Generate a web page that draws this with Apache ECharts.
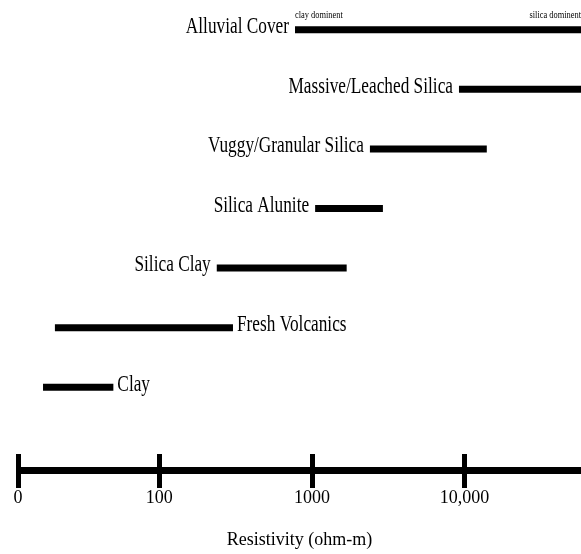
<!DOCTYPE html>
<html><head><meta charset="utf-8">
<script src="https://cdn.jsdelivr.net/npm/echarts@6/dist/echarts.min.js"></script>
<style>html,body{margin:0;padding:0;background:#fff}#c{width:581px;height:554px}</style>
</head><body><div id="c"></div>
<script>
const categories = ['Alluvial Cover','Massive/Leached Silica','Vuggy/Granular Silica','Silica Alunite','Silica Clay','Fresh Volcanics','Clay'];
const lowValues = [775, 9200, 2400, 1050, 238, 20.7, 17.3];
const highValues = [58000, 58000, 14000, 2920, 1690, 304, 50];
const labelSides = ['left','left','left','left','left','right','right'];
const noteTexts = ['clay dominent','silica dominent'];
const noteValues = [775, 58000];
const noteRows = ['Alluvial Cover','Alluvial Cover'];
const noteAligns = ['left','right'];
const tickValues = [11.86, 100, 1000, 10000];
const tickLabels = ['0','100','1000','10,000'];
const axisMin = 11.86, axisMax = 58000;
const axisTitle = 'Resistivity (ohm-m)';

const lg = Math.log10;
const FONT = '"Liberation Serif", "Times New Roman", serif';
const tickLog = tickValues.map(lg);

const barData = categories.map((c, i) => [lg(lowValues[i]), lg(highValues[i]), c]);
const noteData = noteTexts.map((t, i) => [lg(noteValues[i]), noteRows[i]]);

function renderBar(params, api) {
  const i = params.dataIndex;
  const y = api.value(2);
  const p0 = api.coord([api.value(0), y]);
  const p1 = api.coord([api.value(1), y]);
  const h = 7;
  const left = labelSides[i] === 'left';
  return {type: 'group', children: [
    {type: 'rect', shape: {x: p0[0], y: p0[1] - h / 2, width: p1[0] - p0[0], height: h}, style: {fill: '#000'}},
    {type: 'text', x: left ? p0[0] - 6 : p1[0] + 4, y: p0[1] - 3, scaleX: 0.72,
     style: {text: categories[i], fill: '#000', font: '24px ' + FONT, align: left ? 'right' : 'left', verticalAlign: 'middle'}}
  ]};
}
function renderNote(params, api) {
  const i = params.dataIndex;
  const p = api.coord([api.value(0), api.value(1)]);
  return {type: 'text', x: p[0], y: p[1] - 9, scaleX: 0.84,
    style: {text: noteTexts[i], fill: '#000', font: '10px ' + FONT, align: noteAligns[i], verticalAlign: 'bottom'}};
}

const xCommon = {type: 'value', min: lg(axisMin), max: lg(axisMax), splitLine: {show: false}};
const chart = echarts.init(document.getElementById('c'), null, {renderer: 'canvas'});
chart.setOption({
  animation: false,
  backgroundColor: '#fff',
  grid: [
    {left: 18, right: 0, top: 0, height: 417},
    {left: 18, right: 0, top: 430, bottom: 84}
  ],
  xAxis: [
    Object.assign({}, xCommon, {gridIndex: 0, show: false}),
    Object.assign({}, xCommon, {gridIndex: 1, position: 'bottom',
      axisLine: {show: true, lineStyle: {color: '#000', width: 7, cap: 'butt'}},
      axisTick: {show: true, inside: false, length: 18, customValues: tickLog, lineStyle: {color: '#000', width: 5}},
      axisLabel: {show: true, customValues: tickLog, margin: 19, color: '#000', fontFamily: FONT, fontSize: 18,
        formatter: v => { const k = tickLog.findIndex(t => Math.abs(t - v) < 1e-6); return k >= 0 ? tickLabels[k] : ''; }},
      name: axisTitle, nameLocation: 'middle', nameGap: 61,
      nameTextStyle: {color: '#000', fontFamily: FONT, fontSize: 18}
    }),
    Object.assign({}, xCommon, {gridIndex: 1, position: 'bottom',
      axisLine: {show: false},
      axisTick: {show: true, inside: true, length: 16, customValues: tickLog, lineStyle: {color: '#000', width: 5}},
      axisLabel: {show: false}
    })
  ],
  yAxis: [
    {type: 'category', gridIndex: 0, data: categories, inverse: true, show: false},
    {type: 'value', gridIndex: 1, show: false}
  ],
  series: [
    {type: 'custom', xAxisIndex: 0, yAxisIndex: 0, renderItem: renderBar, encode: {x: [0, 1], y: 2}, data: barData, clip: false},
    {type: 'custom', xAxisIndex: 0, yAxisIndex: 0, renderItem: renderNote, encode: {x: 0, y: 1}, data: noteData, clip: false}
  ]
});
</script></body></html>
